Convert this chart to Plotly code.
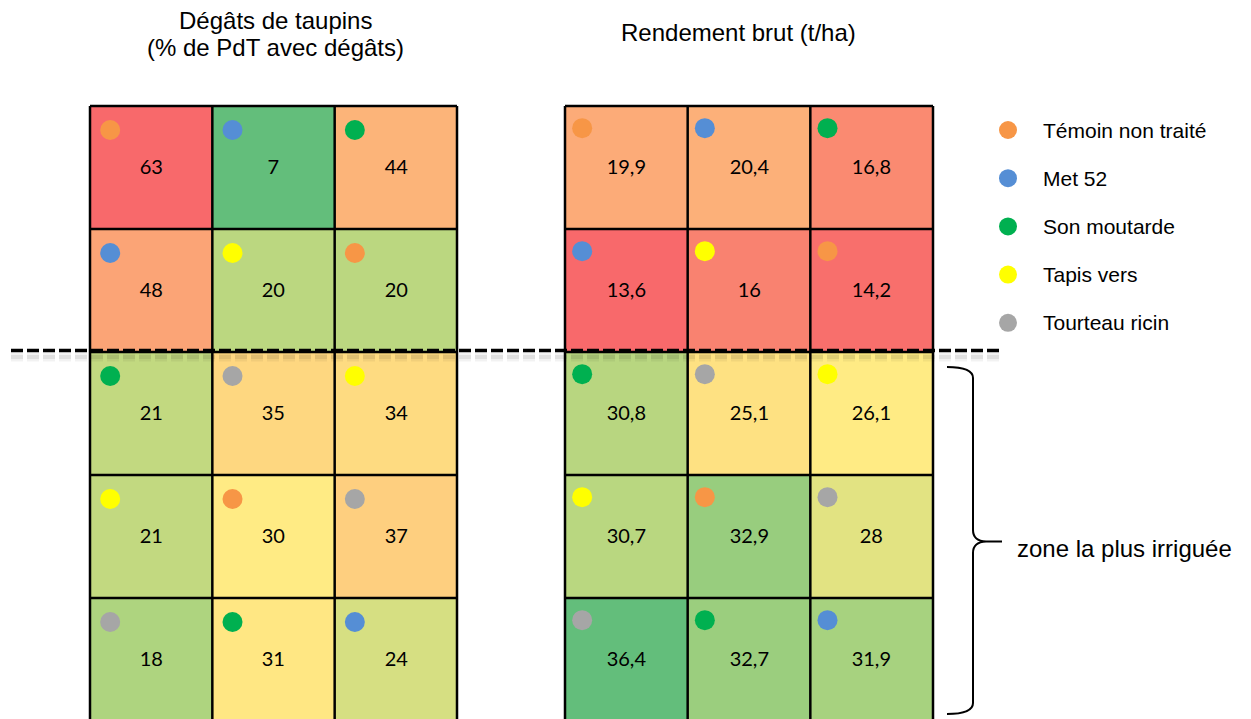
import numpy as np
import plotly.graph_objects as go

# ---------------- data ----------------
treatments = ["Témoin non traité", "Met 52", "Son moutarde", "Tapis vers", "Tourteau ricin"]
treatment_colors = ["#F79646", "#558ED5", "#00B050", "#FFFF00", "#A6A6A6"]

# treatment index of each plot (rows top -> bottom, columns left -> right)
plot_treatment = [
    [0, 1, 2],
    [1, 3, 0],
    [2, 4, 3],
    [3, 0, 4],
    [4, 2, 1],
]

degats = [
    [63, 7, 44],
    [48, 20, 20],
    [21, 35, 34],
    [21, 30, 37],
    [18, 31, 24],
]

rendement = [
    [19.9, 20.4, 16.8],
    [13.6, 16, 14.2],
    [30.8, 25.1, 26.1],
    [30.7, 32.9, 28],
    [36.4, 32.7, 31.9],
]

title_left = ["Dégâts de taupins", "(% de PdT avec dégâts)"]
title_right = "Rendement brut (t/ha)"
zone_label = "zone la plus irriguée"

# ---------------- geometry ----------------
W, H = 1251, 719
OFF = 8          # page body margin offset of the figure in the window
ROW_H = 123.0
EPS = 0.03       # small extra range so border lines are not clipped
grid_top = 106
grids = [
    dict(x0=90, x1=457, data=degats, reverse=True, ax="x", ay="y", dx=0.165, dy=0.195),
    dict(x0=565, x1=933, data=rendement, reverse=False, ax="x2", ay="y2", dx=0.14, dy=0.18),
]

RED, YEL, GRN = "#F8696B", "#FFEB84", "#63BE7B"
ARIAL = "Liberation Sans, Arial, sans-serif"


def px_x(x):
    return (x - OFF) / W


def px_y(y):
    return 1 - (y - OFF) / H


def excel_scale(vals, reverse):
    a = np.asarray(vals, dtype=float).ravel()
    lo, hi, mid = a.min(), a.max(), np.percentile(a, 50)
    p = (mid - lo) / (hi - lo)
    c0, c1 = (GRN, RED) if reverse else (RED, GRN)
    return [[0, c0], [p, YEL], [1, c1]], lo, hi


def fmt(v):
    return f"{v:g}".replace(".", ",")


fig = go.Figure()
shapes = []
layout_axes = {}

nrows = len(degats)
ncols = len(degats[0])

for gi, g in enumerate(grids):
    cs, lo, hi = excel_scale(g["data"], g["reverse"])
    cw = (g["x1"] - g["x0"]) / ncols
    xd0 = px_x(g["x0"] - EPS * cw)
    xd1 = px_x(g["x1"] + EPS * cw)
    yd1 = px_y(grid_top - EPS * ROW_H)
    yd0 = max(0.0, px_y(grid_top + (nrows + EPS) * ROW_H))
    suffix = "" if gi == 0 else "2"
    layout_axes["xaxis" + suffix] = dict(domain=[xd0, xd1], range=[-0.5 - EPS, ncols - 0.5 + EPS],
                                         visible=False, fixedrange=True)
    layout_axes["yaxis" + suffix] = dict(domain=[yd0, yd1], range=[nrows - 0.5 + EPS, -0.5 - EPS],
                                         visible=False, fixedrange=True)

    text = [[fmt(v) for v in row] for row in g["data"]]
    fig.add_trace(go.Heatmap(
        z=g["data"], x=list(range(ncols)), y=list(range(nrows)),
        text=text, texttemplate="%{text}",
        textfont=dict(family="Lato, Carlito, sans-serif", size=20, color="black"),
        colorscale=cs, zmin=lo, zmax=hi, showscale=False, hoverinfo="skip",
        xaxis=g["ax"], yaxis=g["ay"],
    ))

    # treatment dots
    xs, ys, cols = [], [], []
    for r in range(nrows):
        for c in range(ncols):
            xs.append(c - 0.5 + g["dx"])
            ys.append(r - 0.5 + g["dy"])
            cols.append(treatment_colors[plot_treatment[r][c]])
    fig.add_trace(go.Scatter(
        x=xs, y=ys, mode="markers", xaxis=g["ax"], yaxis=g["ay"],
        marker=dict(size=20, color=cols, line=dict(width=0)),
        hoverinfo="skip", showlegend=False,
    ))

    # cell borders
    for c in range(ncols + 1):
        shapes.append(dict(type="line", xref=g["ax"], yref=g["ay"], x0=c - 0.5, x1=c - 0.5,
                           y0=-0.5, y1=nrows - 0.5, line=dict(color="black", width=2.5), layer="above"))
    for r in range(nrows + 1):
        shapes.append(dict(type="line", xref=g["ax"], yref=g["ay"], x0=-0.5, x1=ncols - 0.5,
                           y0=r - 0.5, y1=r - 0.5, line=dict(color="black", width=2.5), layer="above"))

# overlay axis in window-pixel units for annotations, legend, separator and brace
layout_axes["xaxis3"] = dict(domain=[0, 1], range=[OFF, W + OFF], visible=False, fixedrange=True)
layout_axes["yaxis3"] = dict(domain=[0, 1], range=[H + OFF, OFF], visible=False, fixedrange=True)

# legend
leg_x, leg_y0, leg_step = 1008, 130, 48.2
fig.add_trace(go.Scatter(
    x=[leg_x] * len(treatments), y=[leg_y0 + i * leg_step for i in range(len(treatments))],
    mode="markers", xaxis="x3", yaxis="y3",
    marker=dict(size=18, color=treatment_colors, line=dict(width=0)),
    hoverinfo="skip", showlegend=False,
))

annotations = []
for i, name in enumerate(treatments):
    annotations.append(dict(xref="x3", yref="y3", x=1041, y=leg_y0 + i * leg_step, text=name,
                            xanchor="left", yanchor="middle", showarrow=False,
                            font=dict(family=ARIAL, size=21, color="black")))

for line, ty in zip(title_left, [20, 47]):
    annotations.append(dict(xref="x3", yref="y3", x=275.5, y=ty, text=line, showarrow=False,
                            xanchor="center", yanchor="middle",
                            font=dict(family=ARIAL, size=24, color="black")))
annotations.append(dict(xref="x3", yref="y3", x=738.5, y=32, text=title_right, showarrow=False,
                        xanchor="center", yanchor="middle",
                        font=dict(family=ARIAL, size=24, color="black")))
annotations.append(dict(xref="x3", yref="y3", x=1015, y=548, text=zone_label, showarrow=False,
                        xanchor="left", yanchor="middle",
                        font=dict(family=ARIAL, size=24, color="black")))

# dashed separator with soft shadow
shapes.append(dict(type="line", xref="x3", yref="y3", x0=11, x1=999, y0=357, y1=357,
                   line=dict(color="rgba(0,0,0,0.05)", width=9, dash="12px,4px"), layer="above"))
shapes.append(dict(type="line", xref="x3", yref="y3", x0=11, x1=999, y0=357, y1=357,
                   line=dict(color="rgba(0,0,0,0.07)", width=4, dash="12px,4px"), layer="above"))
shapes.append(dict(type="line", xref="x3", yref="y3", x0=11, x1=999, y0=350.5, y1=350.5,
                   line=dict(color="black", width=3.7, dash="12px,4px"), layer="above"))

# curly brace
brace = ("M 947 367 Q 973 367 973 378 L 973 530 Q 973 541 986 541.5 L 1002 541.5 "
         "L 986 541.5 Q 973 542 973 553 L 973 703 Q 973 714 947 714")
shapes.append(dict(type="path", xref="x3", yref="y3", path=brace,
                   line=dict(color="black", width=2), layer="above"))

fig.update_layout(
    width=W, height=H,
    margin=dict(l=0, r=0, t=0, b=0),
    paper_bgcolor="white", plot_bgcolor="rgba(0,0,0,0)",
    showlegend=False,
    shapes=shapes, annotations=annotations,
    **layout_axes,
)

fig.write_html("out.html", config={"displayModeBar": False})
